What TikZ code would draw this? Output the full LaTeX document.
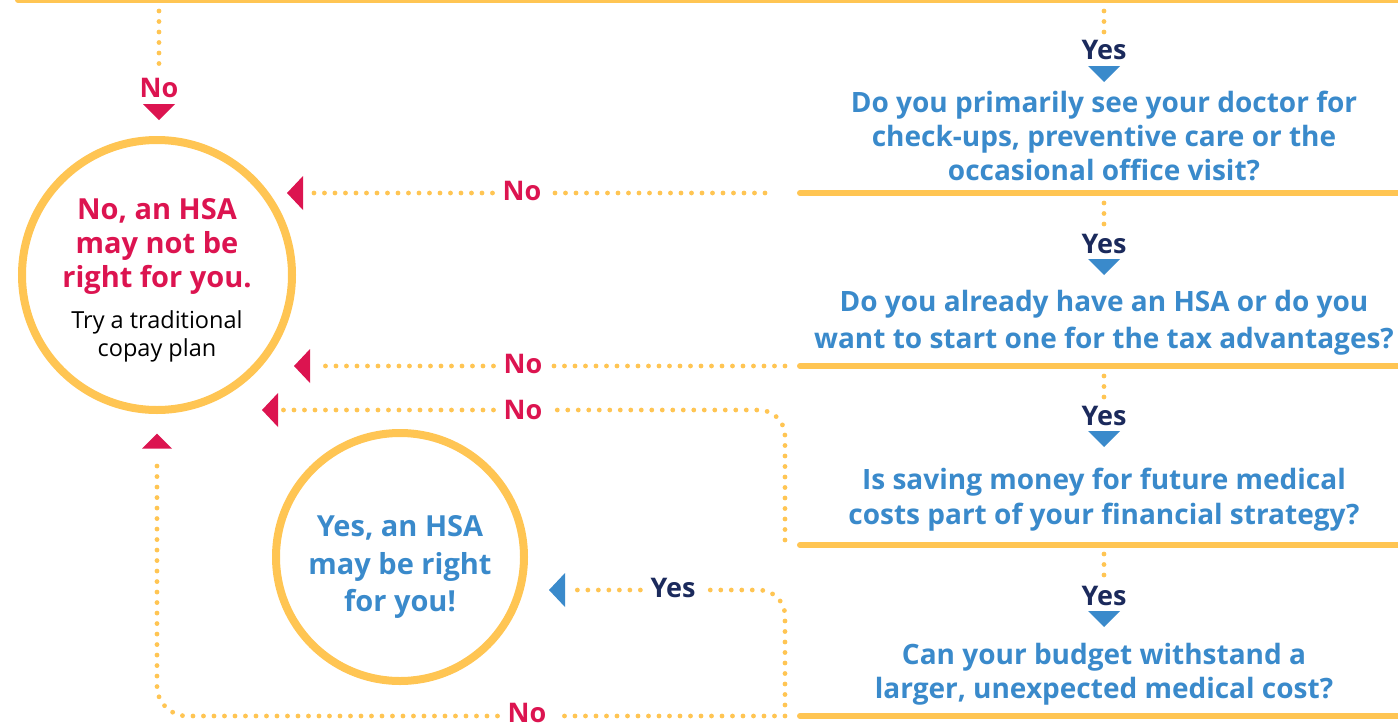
\documentclass[tikz,border=0pt]{standalone}
\usepackage{fontspec}
\setmainfont{Open Sans}
\definecolor{ylw}{HTML}{FFC553}
\definecolor{crim}{HTML}{DC1450}
\definecolor{qblue}{HTML}{3A8ACB}
\definecolor{navy}{HTML}{1B2A5C}
\begin{document}
\begin{tikzpicture}[x=1pt,y=-1pt,
  bar/.style={draw=ylw, line width=6pt, line cap=round},
  dots/.style={draw=ylw, line width=4.8pt, line cap=round, dash pattern=on 0pt off 10.5pt},
  qtext/.style={text=qblue, font=\bfseries\fontsize{28}{34}\selectfont, align=center, inner sep=0},
  nolab/.style={text=crim, font=\bfseries\fontsize{27}{30}\selectfont, inner sep=0},
  yeslab/.style={text=navy, font=\bfseries\fontsize{27}{30}\selectfont, inner sep=0},
  ring/.style={draw=ylw, line width=8pt, circle, inner sep=0},
  trid/.pic={\path[pic actions] (-16,-8)--(16,-8)--(0,8)--cycle;},
  tril/.pic={\path[pic actions] (-8,0)--(8,-17)--(8,17)--cycle;},
  triu/.pic={\path[pic actions] (-15,7.5)--(15,7.5)--(0,-7.5)--cycle;}
]
\useasboundingbox (0,0) rectangle (1398,723);
% decision bars
\coordinate (top0) at (18,0);   \coordinate (top1) at (1398,0);
\coordinate (b1l) at (800,193); \coordinate (b1r) at (1398,193);
\coordinate (b2l) at (800,366); \coordinate (b2r) at (1398,366);
\coordinate (b3l) at (800,545); \coordinate (b3r) at (1398,545);
\coordinate (b4l) at (800,716); \coordinate (b4r) at (1398,716);
\draw[bar] (top0) -- (top1);
\draw[bar] (b1l) -- (b1r);
\draw[bar] (b2l) -- (b2r);
\draw[bar] (b3l) -- (b3r);
\draw[bar] (b4l) -- (b4r);

% questions
\node[qtext] (q1) at (1104,136) {Do you primarily see your doctor for\\check-ups, preventive care or the\\occasional office visit?};
\node[qtext, font=\bfseries\fontsize{28}{37}\selectfont] (q2) at (1104,323) {Do you already have an HSA or do you\\want to start one for the tax advantages?};
\node[qtext, font=\bfseries\fontsize{28}{35}\selectfont] (q3) at (1104,500) {Is saving money for future medical\\costs part of your financial strategy?};
\node[qtext] (q4) at (1104,674) {Can your budget withstand a\\larger, unexpected medical cost?};

% results
\node[ring, minimum size=270pt] (noC) at (157,275) {};
\node[text=crim, font=\bfseries\fontsize{29}{34}\selectfont, align=center, inner sep=0] (noT) at (157,246) {No, an HSA\\may not be\\right for you.};
\node[text=black, font=\fontsize{23.5}{28}\selectfont, align=center, inner sep=0] (noS) at (157,336) {Try a traditional\\copay plan};
\node[ring, minimum size=248pt] (yesC) at (400,557) {};
\node[text=qblue, font=\bfseries\fontsize{29}{37.5}\selectfont, align=center, inner sep=0] (yesT) at (400,567) {Yes, an HSA\\may be right\\for you!};

% Yes chain
\coordinate (y1a) at (1104,11);
\node[yeslab] (y1) at (1104,50) {Yes};
\pic[fill=qblue] at (1104,74) {trid};
\draw[dots] (y1a) -- (1104,33);
\coordinate (y2a) at (1104,203);
\node[yeslab] (y2) at (1104,244) {Yes};
\pic[fill=qblue] at (1104,267) {trid};
\draw[dots] (y2a) -- (1104,226);
\coordinate (y3a) at (1104,376);
\node[yeslab] (y3) at (1104,416) {Yes};
\pic[fill=qblue] at (1104,439) {trid};
\draw[dots] (y3a) -- (1104,398);
\coordinate (y4a) at (1104,554);
\node[yeslab] (y4) at (1104,596) {Yes};
\pic[fill=qblue] at (1104,619) {trid};
\draw[dots] (y4a) -- (1104,577);

% top left No
\coordinate (n0a) at (159,11);
\node[nolab] (n0) at (159,88) {No};
\pic[fill=crim] at (159,112) {trid};
\draw[dots] (n0a) -- (159,68);

% No 1
\coordinate (n1s) at (765,193);
\node[nolab] (n1) at (522,191) {No};
\coordinate (n1e) at (306,193);
\draw[dots] (n1s) -- ([xshift=10pt]n1.east |- n1s);
\draw[dots] ([xshift=-10pt]n1.west |- n1s) -- (n1e);
\pic[fill=crim] at (295,193) {tril};

% No 2
\node[nolab] (n2) at (523,364) {No};
\draw[dots] (785,366) -- ([xshift=10pt]n2.east |- 0,366);
\draw[dots] ([xshift=-10pt]n2.west |- 0,366) -- (318,366);
\pic[fill=crim] at (302,366) {tril};

% No 3
\node[nolab] (n3) at (523,410) {No};
\draw[dots, rounded corners=26pt] (b3l -| 785,0) ++(0,-5) -- (785,410) -- ([xshift=10pt]n3.east |- 0,410);
\draw[dots] ([xshift=-10pt]n3.west |- 0,410) -- (281,410);
\pic[fill=crim] at (270,410) {tril};

% Yes 5
\node[yeslab] (y5) at (673,588) {Yes};
\draw[dots, rounded corners=26pt] (785,705) -- (785,590) -- ([xshift=10pt]y5.east |- 0,590);
\draw[dots] ([xshift=-10pt]y5.west |- 0,590) -- (573,590);
\pic[fill=qblue] at (557,590) {tril};

% No 5
\node[nolab] (n5) at (527,713) {No};
\draw[dots] (785,716) -- ([xshift=10pt]n5.east |- 0,716);
\draw[dots, rounded corners=30pt] ([xshift=-10pt]n5.west |- 0,716) -- (157,716) -- (157,456);
\pic[fill=crim] at (157,441) {triu};
\end{tikzpicture}
\end{document}
